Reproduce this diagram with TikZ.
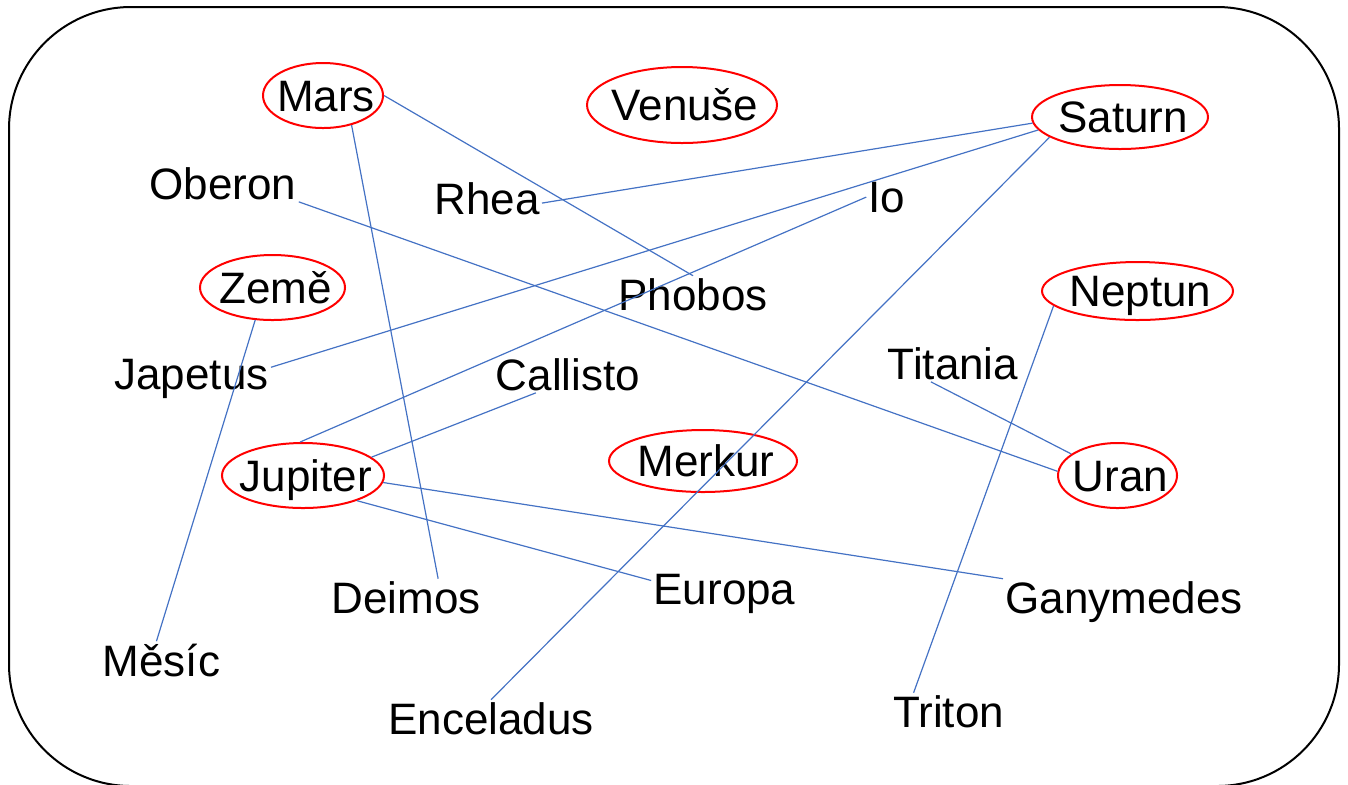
\documentclass[tikz,border=0pt]{standalone}
\usepackage{fontspec}
\setmainfont{Liberation Sans}
\usepackage{tikz}
\usetikzlibrary{shapes}
\definecolor{linkblue}{HTML}{4472C4}

\begin{document}
\begin{tikzpicture}[x=0.5pt,y=-0.5pt,
planet/.style={ellipse,draw=red,line width=1pt,inner sep=-30pt,
text height=15.75pt,text depth=0pt,execute at begin node={\kern3pt},
font=\fontsize{22}{26}\selectfont},
moon/.style={anchor=base,inner sep=1pt,font=\fontsize{22}{26}\selectfont},
link/.style={draw=linkblue,line width=0.6pt}]
\useasboundingbox (0,0) rectangle (1348,784);
\draw[line width=1pt,rounded corners=61pt] (9,7) rectangle (1339,786);

\node[planet,minimum width=60pt,minimum height=32.5pt] (mars) at (323,95.5) {Mars};
\node[planet,minimum width=95pt,minimum height=38pt] (venuse) at (682,105) {Venuše};
\node[planet,minimum width=88pt,minimum height=32pt] (saturn) at (1120,117) {Saturn};
\node[planet,minimum width=72.5pt,minimum height=32.5pt] (zeme) at (272.5,287.5) {Země};
\node[planet,minimum width=95.5pt,minimum height=29pt] (neptun) at (1137.5,291) {Neptun};
\node[planet,minimum width=81pt,minimum height=32.5pt] (jupiter) at (303,475.5) {Jupiter};
\node[planet,minimum width=94pt,minimum height=31pt] (merkur) at (703,461) {Merkur};
\node[planet,minimum width=59.5pt,minimum height=32.5pt] (uran) at (1117.5,475.5) {Uran};

\node[moon] (oberon) at (223,199) {Oberon};
\node[moon] (rhea) at (487,214) {Rhea};
\node[moon] (io) at (887,212) {Io};
\node[moon] (phobos) at (693,310) {Phobos};
\node[moon] (japetus) at (191.5,389) {Japetus};
\node[moon] (callisto) at (568,390) {Callisto};
\node[moon] (titania) at (953,379) {Titania};
\node[moon] (deimos) at (406,613) {Deimos};
\node[moon] (europa) at (724.5,604) {Europa};
\node[moon] (ganymedes) at (1124,613) {Ganymedes};
\node[moon] (mesic) at (161.5,676) {Měsíc};
\node[moon] (enceladus) at (491,734) {Enceladus};
\node[moon] (triton) at (948.5,727) {Triton};

\draw[link] (mars.east) -- (phobos.north);
\draw[link] (mars.-46) -- (deimos.30);
\draw[link] (saturn.184) -- (rhea.-5);
\draw[link] (saturn.189) -- (japetus.8);
\draw[link] (saturn.196) -- (enceladus.north);
\draw[link] (io.west) -- (jupiter.95);
\draw[link] (oberon.south east) -- (uran.176);
\draw[link] (zeme.-118) -- (mesic.105);
\draw[link] (callisto.-150) -- (jupiter.15);
\draw[link] (jupiter.-25) -- (europa.170);
\draw[link] (jupiter.-5) -- (ganymedes.north west);
\draw[link] (titania.-140) -- (uran.155);
\draw[link] (neptun.-170) -- (triton.152);
\end{tikzpicture}
\end{document}
